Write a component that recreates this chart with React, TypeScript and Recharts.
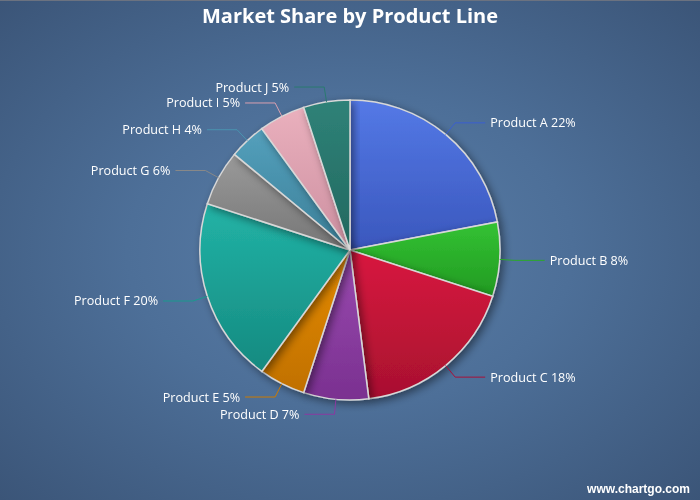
import React from 'react';
import { PieChart, Pie, Cell } from 'recharts';

const categories = ['Product A', 'Product B', 'Product C', 'Product D', 'Product E', 'Product F', 'Product G', 'Product H', 'Product I', 'Product J'];
const shares = [22, 8, 18, 7, 5, 20, 6, 4, 5, 5];
const topColors = ['#5479e6', '#33c233', '#d8183f', '#9a4bb0', '#e68c08', '#22b3a6', '#9a9a9a', '#54a0bc', '#eab0bd', '#2f8278'];
const bottomColors = ['#3a57bd', '#229a22', '#a8102f', '#7a3090', '#c07000', '#158a80', '#767676', '#3b7f98', '#cc8fa0', '#22685f'];
const lineColors = ['#3a5fd0', '#2aa82a', '#a8103a', '#8a3aa0', '#cc7a00', '#1a9a8e', '#888888', '#4a94b0', '#d9a0b0', '#2a7a70'];

const data = categories.map((name, i) => ({ name, value: shares[i] }));

const RAD = Math.PI / 180;

const renderLabel = (props: any) => {
  const { cx, cy, midAngle, outerRadius, index, name, value } = props;
  const cos = Math.cos(-midAngle * RAD);
  const sin = Math.sin(-midAngle * RAD);
  const sx = cx + outerRadius * cos;
  const sy = cy + outerRadius * sin;
  const mx = cx + (outerRadius + 15) * cos;
  const my = cy + (outerRadius + 15) * sin;
  const dir = cos >= 0 ? 1 : -1;
  const ex = mx + dir * 30;
  return (
    <g>
      <polyline points={`${sx},${sy} ${mx},${my} ${ex},${my}`} fill="none" stroke={lineColors[index]} strokeWidth={1} />
      <text x={ex + dir * 5} y={my} fill="#ffffff" fontSize={12.6} fontFamily="'Open Sans', sans-serif" textAnchor={dir > 0 ? 'start' : 'end'} dominantBaseline="central">
        {`${name} ${value}%`}
      </text>
    </g>
  );
};

export default function App() {
  return (
    <div
      style={{
        position: 'fixed',
        left: 0,
        top: 0,
        width: 700,
        height: 500,
        background: 'radial-gradient(ellipse at 50% 50%, #5a7ea8 0%, #4d6f98 45%, #3b5578 100%)',
        borderTop: '1px solid #6b7280',
        boxSizing: 'border-box',
      }}
    >
      <div
        style={{
          position: 'absolute',
          top: 1,
          left: 0,
          width: 700,
          textAlign: 'center',
          color: '#fff',
          fontFamily: "'Open Sans', sans-serif",
          fontWeight: 700,
          fontSize: 20,
        }}
      >
        Market Share by Product Line
      </div>
      <div style={{ position: 'absolute', top: -1, left: 0 }}>
        <PieChart width={700} height={500} margin={{ top: 0, right: 0, bottom: 0, left: 0 }}>
          <defs>
            {topColors.map((c, i) => (
              <linearGradient key={i} id={`g${i}`} x1="0" y1="0" x2="0" y2="1">
                <stop offset="0%" stopColor={c} />
                <stop offset="100%" stopColor={bottomColors[i]} />
              </linearGradient>
            ))}
            <filter id="shadow" x="-20%" y="-20%" width="140%" height="140%">
              <feDropShadow dx="3" dy="3" stdDeviation="4" floodColor="#000" floodOpacity="0.45" />
            </filter>
          </defs>
          <Pie
            data={data}
            dataKey="value"
            nameKey="name"
            cx={350}
            cy={250}
            outerRadius={150}
            startAngle={90}
            endAngle={-270}
            stroke="#d8d8d8"
            strokeWidth={1.5}
            label={renderLabel}
            labelLine={false}
            isAnimationActive={false}
            style={{ filter: 'url(#shadow)' }}
          >
            {data.map((d, i) => (
              <Cell key={d.name} fill={`url(#g${i})`} />
            ))}
          </Pie>
        </PieChart>
      </div>
      <div
        style={{
          position: 'absolute',
          right: 10,
          bottom: 4,
          color: '#fff',
          fontFamily: "'Liberation Sans', Arial, sans-serif",
          fontWeight: 700,
          fontSize: 12,
        }}
      >
        www.chartgo.com
      </div>
    </div>
  );
}
